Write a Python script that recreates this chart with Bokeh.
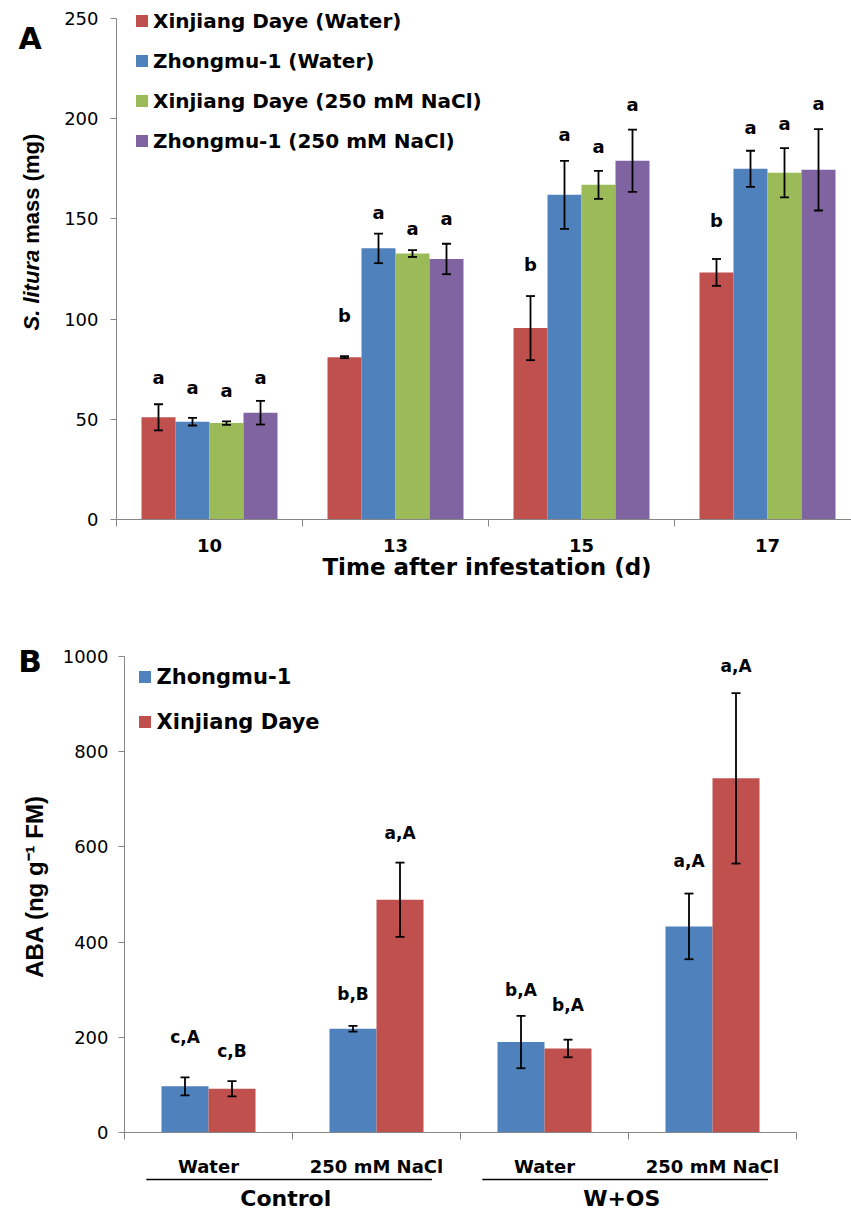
from bokeh.plotting import figure
from bokeh.models import Range1d, FixedTicker, ColumnDataSource, Whisker, TeeHead, Label
from bokeh.layouts import column
from bokeh.embed import file_html
from bokeh.resources import INLINE
from bokeh.core.properties import value

# ---------------- data: panel A ----------------
days = ["10", "13", "15", "17"]
series_a = ["Xinjiang Daye (Water)", "Zhongmu-1 (Water)",
            "Xinjiang Daye (250 mM NaCl)", "Zhongmu-1 (250 mM NaCl)"]
xd_water = [51, 81, 95.5, 123.3]
xd_water_err = [6.5, 0.5, 16, 6.7]
zm_water = [48.8, 135.3, 162, 175]
zm_water_err = [1.9, 7.4, 17, 9]
xd_salt = [48.1, 132.7, 167, 173]
xd_salt_err = [0.9, 1.7, 7, 12.3]
zm_salt = [53.3, 130, 179, 174.5]
zm_salt_err = [5.9, 7.6, 15.5, 20.3]
letters_xd_water = ["a", "b", "b", "b"]
letters_zm_water = ["a", "a", "a", "a"]
letters_xd_salt = ["a", "a", "a", "a"]
letters_zm_salt = ["a", "a", "a", "a"]
letter_y_xd_water = [71, 101.8, 127, 149]
letter_y_zm_water = [65.7, 153, 192, 195.8]
letter_y_xd_salt = [64.4, 145, 186, 197.4]
letter_y_zm_salt = [71, 150, 207, 207.4]
y_ticks_a = [0, 50, 100, 150, 200, 250]

# ---------------- data: panel B ----------------
treatments = ["Water", "250 mM NaCl", "Water", "250 mM NaCl"]
groups_b = ["Control", "W+OS"]
series_b = ["Zhongmu-1", "Xinjiang Daye"]
aba_zm = [97, 218, 190, 433]
aba_zm_err = [19, 6, 55, 69]
aba_xd = [92, 489, 176.5, 744]
aba_xd_err = [16, 78, 18.5, 179]
letters_zm_b = ["c,A", "b,B", "b,A", "a,A"]
letters_xd_b = ["c,B", "a,A", "b,A", "a,A"]
letter_y_zm_b = [200, 290, 300, 571]
letter_y_xd_b = [172, 630, 268, 980]
y_ticks_b = [0, 200, 400, 600, 800, 1000]

RED, BLUE, GREEN, PURPLE = "#C0504D", "#4F81BD", "#9BBB59", "#8064A2"
AXIS_GREY = "#868686"
FONT = "DejaVu Sans"
FONT_Y = "Liberation Sans"

W = 851
A_H = 630
B_TOP_PAGE = A_H
B_H = 1211 - A_H

# ---- page-pixel geometry helpers (layout only) ----
A_AXIS_PX, A_CAT_PX = 116, 186.0
A_Y0_PX, A_YMAX_PX, A_YMAX = 519, 18, 250


def ax(px):
    return 0.5 + (px - A_AXIS_PX) / A_CAT_PX


def ay(py):
    return (A_Y0_PX - py) * A_YMAX / (A_Y0_PX - A_YMAX_PX)


B_AXIS_PX, B_CAT_PX = 124, 168.0
B_Y0_PX, B_YMAX_PX, B_YMAX = 1132, 656, 1000


def bx(px):
    return 0.5 + (px - B_AXIS_PX) / B_CAT_PX


def by(py):
    return (B_Y0_PX - py) * B_YMAX / (B_Y0_PX - B_YMAX_PX)


def new_fig(height, xr, yr):
    p = figure(width=W, height=height, x_range=xr, y_range=yr,
               output_backend="svg", toolbar_location=None,
               min_border=0, min_border_left=0, min_border_right=0,
               min_border_top=0, min_border_bottom=0)
    p.grid.visible = False
    p.outline_line_color = None
    for a in p.axis:
        a.axis_line_color = AXIS_GREY
        a.major_tick_line_color = AXIS_GREY
        a.minor_tick_line_color = AXIS_GREY
        a.major_tick_in = 0
        a.minor_tick_in = 0
        a.major_label_text_color = "black"
        a.major_label_text_font = FONT
    return p


def add_bars(p, centers, offset, width, vals, errs, letters, letter_y, color, name, lsize):
    xs = [c + offset for c in centers]
    src = ColumnDataSource(dict(
        x=xs, top=vals,
        upper=[v + e for v, e in zip(vals, errs)],
        lower=[v - e for v, e in zip(vals, errs)],
        lab=letters, ly=letter_y))
    p.vbar(x="x", top="top", width=width, source=src, fill_color=color,
           line_color=None, legend_label=name)
    p.add_layout(Whisker(source=src, base="x", upper="upper", lower="lower",
                         line_color="black", line_width=1.8, level="annotation",
                         upper_head=TeeHead(size=9, line_width=1.8, line_color="black"),
                         lower_head=TeeHead(size=9, line_width=1.8, line_color="black")))
    p.text(x="x", y="ly", text="lab", source=src, text_align="center",
           text_baseline="middle", text_font=value(FONT), text_font_style="bold",
           text_font_size=lsize, text_color="black")


def style_legend(lg, loc, spacing, label_h, fsize, standoff):
    lg.location = loc
    lg.padding = 0
    lg.margin = 0
    lg.spacing = spacing
    lg.label_height = label_h
    lg.glyph_height = 15
    lg.glyph_width = 15
    lg.label_standoff = standoff
    lg.border_line_color = None
    lg.background_fill_alpha = 0
    lg.label_text_font = FONT
    lg.label_text_font_style = "bold"
    lg.label_text_font_size = fsize
    lg.label_text_color = "black"


def text_label(p, x, y, text, size, style="bold", font=FONT, angle=0, align="center"):
    p.add_layout(Label(x=x, y=y, text=text, angle=angle, angle_units="deg",
                       text_font=font, text_font_style=style, text_font_size=size,
                       text_align=align, text_baseline="middle", text_color="black"))


# ================= Panel A =================
pA = new_fig(A_H, Range1d(ax(0), ax(W)), Range1d(ay(A_H), ay(0)))

centers_a = [i + 1 for i in range(len(days))]
bw_a = 34 / A_CAT_PX
series_data_a = [
    (xd_water, xd_water_err, letters_xd_water, letter_y_xd_water, RED),
    (zm_water, zm_water_err, letters_zm_water, letter_y_zm_water, BLUE),
    (xd_salt, xd_salt_err, letters_xd_salt, letter_y_xd_salt, GREEN),
    (zm_salt, zm_salt_err, letters_zm_salt, letter_y_zm_salt, PURPLE),
]
for j, (vals, errs, labs, ly, col) in enumerate(series_data_a):
    add_bars(pA, centers_a, (j - 1.5) * bw_a, bw_a, vals, errs, labs, ly, col, series_a[j], "18px")

xa = pA.xaxis[0]
xa.fixed_location = 0
xa.bounds = (0.5, ax(W))
xa.ticker = FixedTicker(ticks=centers_a, minor_ticks=[c - 0.5 for c in centers_a])
xa.major_label_overrides = {c: d for c, d in zip(centers_a, days)}
xa.major_tick_out = 0
xa.minor_tick_out = 7
xa.major_label_standoff = 12
xa.major_label_text_font_style = "bold"
xa.major_label_text_font_size = "18px"

ya = pA.yaxis[0]
ya.fixed_location = 0.5
ya.bounds = (0, A_YMAX)
ya.ticker = FixedTicker(ticks=y_ticks_a)
ya.major_tick_out = 6
ya.major_label_standoff = 12
ya.major_label_text_font_size = "18px"

style_legend(pA.legend[0], (134, A_H - 152.7), 16, 24, "20px", 4)

text_label(pA, ax(486.5), ay(566.5), "Time after infestation (d)", "23px")
text_label(pA, ax(30.5), ay(330), "S. litura", "22px", style="bold italic", font=FONT_Y,
           angle=90, align="left")
text_label(pA, ax(30.5), ay(330 - 86.8), "mass (mg)", "22px", font=FONT_Y,
           angle=90, align="left")
text_label(pA, ax(29.5), ay(38), "A", "30px")

# ================= Panel B =================
pB = new_fig(B_H, Range1d(bx(0), bx(W)), Range1d(by(B_TOP_PAGE + B_H), by(B_TOP_PAGE)))

centers_b = [i + 1 for i in range(len(treatments))]
bw_b = 47 / B_CAT_PX
add_bars(pB, centers_b, -0.5 * bw_b, bw_b, aba_zm, aba_zm_err, letters_zm_b, letter_y_zm_b,
         BLUE, series_b[0], "17px")
add_bars(pB, centers_b, 0.5 * bw_b, bw_b, aba_xd, aba_xd_err, letters_xd_b, letter_y_xd_b,
         RED, series_b[1], "17px")

xb = pB.xaxis[0]
xb.fixed_location = 0
xb.bounds = (0.5, centers_b[-1] + 0.5)
xb.ticker = FixedTicker(ticks=centers_b,
                        minor_ticks=[c - 0.5 for c in centers_b] + [centers_b[-1] + 0.5])
xb.major_label_overrides = {c: t for c, t in zip(centers_b, treatments)}
xb.major_tick_out = 0
xb.minor_tick_out = 7
xb.major_label_standoff = 16
xb.major_label_text_font_style = "bold"
xb.major_label_text_font_size = "18px"

yb = pB.yaxis[0]
yb.fixed_location = 0.5
yb.bounds = (0, B_YMAX)
yb.ticker = FixedTicker(ticks=y_ticks_b)
yb.major_tick_out = 6
yb.major_label_standoff = 10
yb.major_label_text_font_size = "18px"

style_legend(pB.legend[0], (136.5, B_TOP_PAGE + B_H - 734.7), 19, 26, "21px", 5)

text_label(pB, bx(33.5), by(886), "ABA (ng g\u207b\u00b9 FM)", "24px", font=FONT_Y, angle=90)
text_label(pB, bx(29.5), by(660), "B", "31px")

group_centers = [(centers_b[0] + centers_b[1]) / 2, (centers_b[2] + centers_b[3]) / 2]
line_src = ColumnDataSource(dict(
    base=[by(1179)] * 2,
    lower=[g - 0.87 for g in group_centers],
    upper=[g + 0.83 for g in group_centers]))
pB.add_layout(Whisker(source=line_src, base="base", lower="lower", upper="upper",
                      dimension="width", lower_head=None, upper_head=None,
                      line_color="black", line_width=1.5, level="annotation"))
for g, name in zip(group_centers, groups_b):
    text_label(pB, g - 0.04, by(1198), name, "22px")

layout = column(pA, pB, spacing=0)
open("out.html", "w").write(file_html(layout, INLINE))
